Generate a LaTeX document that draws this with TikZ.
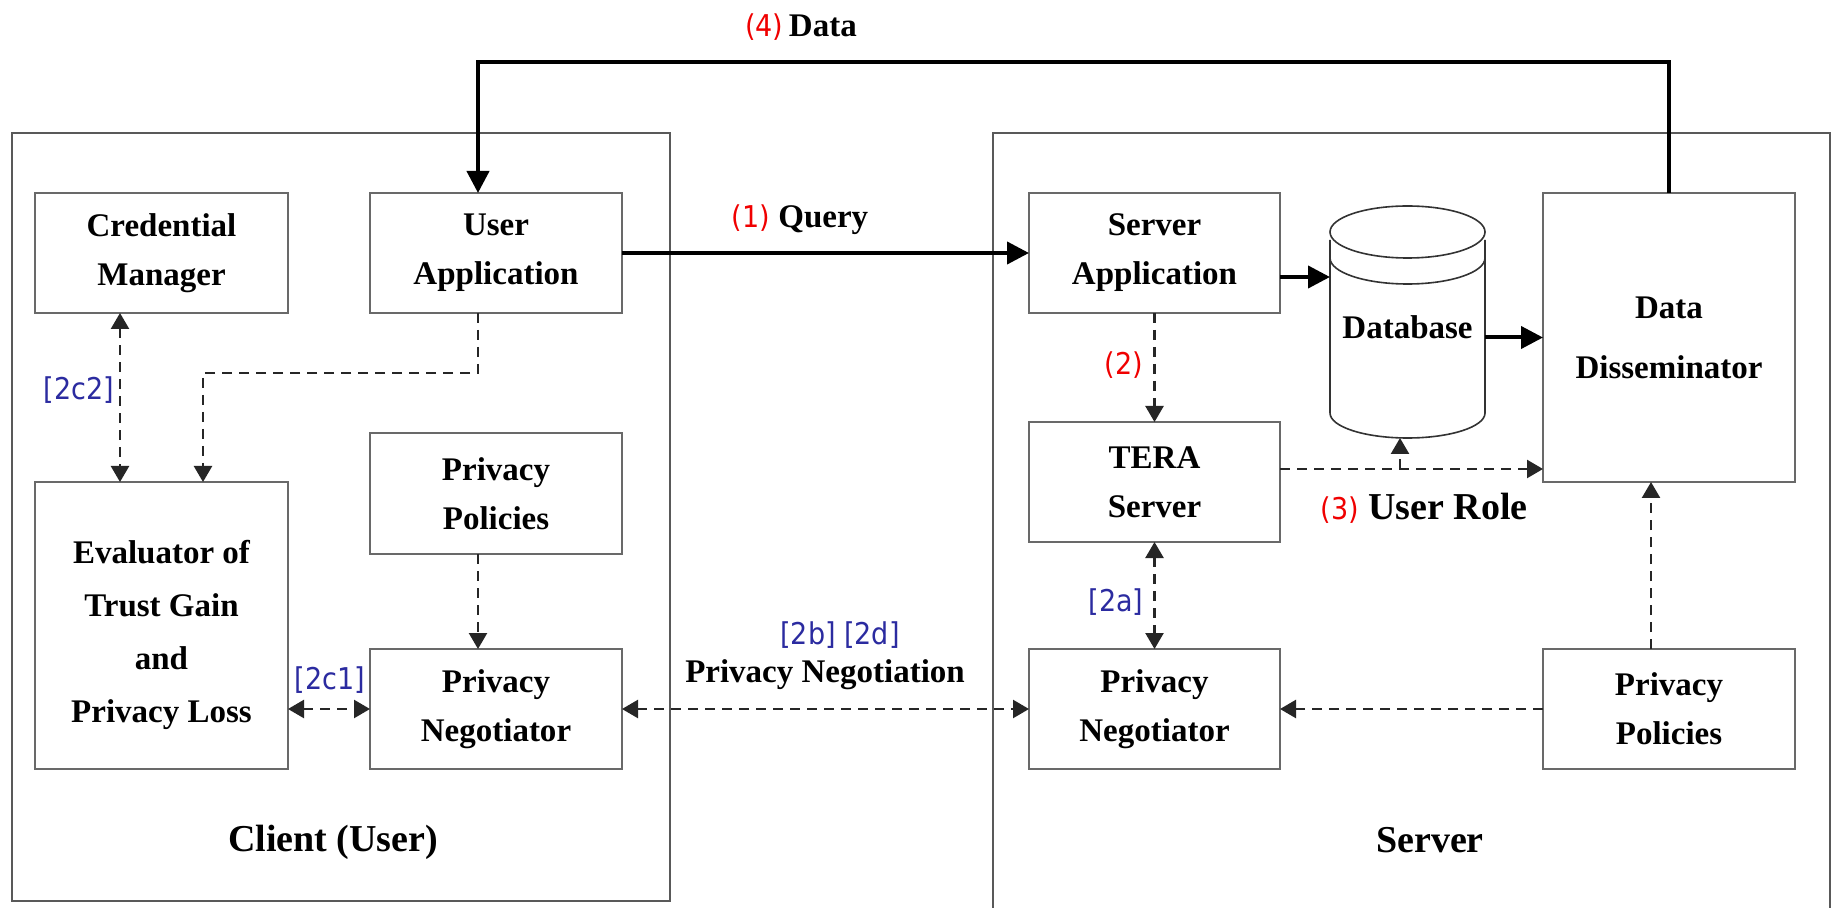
\documentclass[tikz,border=0pt]{standalone}
\usepackage{fontspec}
\setmainfont{Liberation Serif}
\newfontfamily\labfont[FakeStretch=0.9]{DejaVu Sans}
\usetikzlibrary{arrows.meta,calc}
\definecolor{lblue}{RGB}{43,43,160}
\definecolor{lred}{RGB}{240,0,0}
\definecolor{boxgray}{RGB}{105,105,105}
\newcommand\rlab[1]{{\labfont\mdseries\fontsize{15}{18}\selectfont\color{lred}#1}}
\newcommand\blab[1]{{\labfont\mdseries\fontsize{15}{18}\selectfont\color{lblue}#1}}
\begin{document}
\begin{tikzpicture}[x=0.5pt,y=-0.5pt,
  box/.style={draw=boxgray, line width=1pt, fill=white, minimum width=126pt, minimum height=60pt,
    align=center, inner sep=2pt, outer sep=0pt, font=\fontsize{16.5}{24.5}\selectfont\bfseries},
  bigarrow/.style={line width=2pt, -{Triangle[length=11pt,width=11pt]}},
  dline/.style={line width=1.2pt, draw=black!85, dash pattern=on 5pt off 3.5pt},
  darr/.style={dline, -{Triangle[length=8pt,width=9pt]}},
  dbl/.style={dline, {Triangle[length=8pt,width=9pt]}-{Triangle[length=8pt,width=9pt]}},
  txt/.style={inner sep=0pt, font=\fontsize{16.5}{20}\selectfont\bfseries},
  bigtxt/.style={inner sep=0pt, font=\fontsize{19}{23}\selectfont\bfseries},
  cont/.style={draw=black!65, line width=0.8pt},
]
\useasboundingbox (0,0) rectangle (1835,908);
\fill[white] (0,0) rectangle (1835,908);
% containers
\draw[cont] (12,133) rectangle (670,901);
\draw[cont] (993,915) -- (993,133) -- (1830,133) -- (1830,915);

% boxes
\node[box, minimum width=126.5pt] (cred) at (161.5,253) {Credential\\Manager};
\node[box] (userapp) at (496,253) {User\\Application};
\node[box, minimum height=60.5pt] (cpol) at (496,493.5) {Privacy\\Policies};
\node[box, minimum width=126.5pt, minimum height=143.5pt] (eval) at (161.5,625.5) {};
\node[align=center, inner sep=0pt, font=\fontsize{16.5}{26.5}\selectfont\bfseries] (evaltext) at (161.5,635)
      {Evaluator of\\Trust Gain\\and\\Privacy Loss};
\node[box] (cneg) at (496,709) {Privacy\\Negotiator};
\node[box, minimum width=125.5pt] (sapp) at (1154.5,253) {Server\\Application};
\node[box, minimum width=125.5pt] (tera) at (1154.5,482) {TERA\\Server};
\node[box, minimum width=125.5pt] (sneg) at (1154.5,709) {Privacy\\Negotiator};
\node[box, minimum height=144.5pt, font=\fontsize{16.5}{30}\selectfont\bfseries] (dd) at (1669,337.5) {Data\\Disseminator};
\node[box] (spol) at (1669,709) {Privacy\\Policies};

% database
\node[minimum width=77.5pt, minimum height=115.5pt, inner sep=0pt, outer sep=0pt] (db) at (1407.5,322.5) {};
\draw[draw=black!80, line width=0.8pt, fill=white] (1330,240) -- (1330,413)
   arc[start angle=180, end angle=360, x radius=38.75pt, y radius=12.5pt] -- (1485,240);
\draw[draw=black!80, line width=0.8pt] (1330,258)
   arc[start angle=180, end angle=360, x radius=38.75pt, y radius=13pt];
\draw[draw=black!80, line width=0.8pt, fill=white] (1407.5,232) ellipse [x radius=38.75pt, y radius=13pt];
\node[txt] (dbtext) at (1407.5,327) {Database};

% solid connectors
\coordinate (datatop) at (1669,62);
\draw[bigarrow] (dd.north) -- (datatop) -| ([xshift=-9pt]userapp.north);
\draw[bigarrow] (userapp.east) -- (sapp.west);
\draw[bigarrow] ([yshift=-12pt]sapp.east) -- ([yshift=-12pt]sapp.east -| db.west);
\draw[bigarrow] (db.east |- dd.west) -- (dd.west);

% dashed connectors, server side
\draw[darr] (sapp.south) -- (tera.north);
\coordinate (rolel) at ([yshift=6.5pt]tera.east);
\draw[darr] (rolel) -- (rolel -| dd.west);
\draw[darr] ([xshift=-3.75pt]rolel -| db.south) -- ([xshift=-3.75pt]db.south);
\draw[dbl] (tera.south) -- (sneg.north);
\draw[darr] (spol.west) -- (sneg.east);
\draw[darr] ([xshift=-9pt]spol.north) -- ([xshift=-9pt]dd.south);

% dashed connectors, client side / between
\draw[dbl] (cneg.east) -- (sneg.west);
\draw[darr] ([xshift=-9pt]cpol.south) -- ([xshift=-9pt]cneg.north);
\draw[dbl] (eval.east |- cneg.west) -- (cneg.west);
\draw[darr] ([xshift=-9pt]userapp.south) -- ++(0,-30pt) -| ([xshift=20.75pt]eval.north);
\draw[dbl] ([xshift=-20.75pt]cred.south) -- ([xshift=-20.75pt]eval.north);

% labels
\node[txt] (l4) at (801,27) {\rlab{(4)}\,Data};
\node[txt] (l1) at (800,220) {\rlab{(1)} Query};
\node[txt] (l2) at (1124,365) {\rlab{(2)}};
\node[bigtxt] (l3) at (1424,508) {\rlab{(3)} User Role};
\node[txt] (l2a) at (1116,602) {\blab{[2a]}};
\node[txt] (l2c2) at (79,390) {\blab{[2c2]}};
\node[txt] (l2c1) at (330,680) {\blab{[2c1]}};
\node[txt] (l2b) at (840,635) {\blab{[2b] [2d]}};
\node[txt] (lpn) at (825,675) {Privacy Negotiation};
\node[bigtxt] (lclient) at (333,842) {Client (User)};
\node[bigtxt] (lserver) at (1430,840) {Server};
\end{tikzpicture}
\end{document}
